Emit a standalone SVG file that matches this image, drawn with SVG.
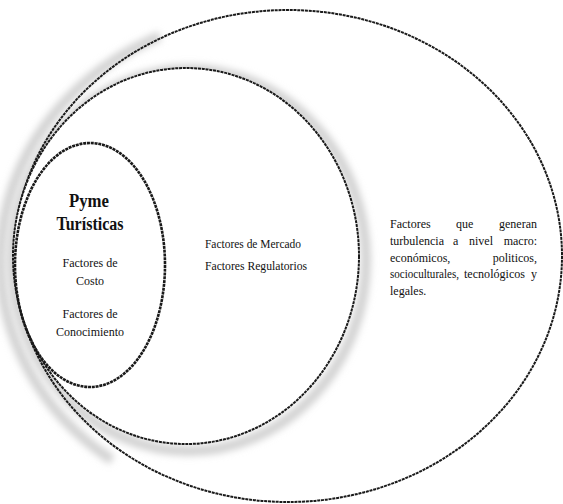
<svg xmlns="http://www.w3.org/2000/svg" width="563" height="504" viewBox="0 0 563 504">
  <defs>
    <filter id="blur" x="-20%" y="-20%" width="140%" height="140%">
      <feGaussianBlur stdDeviation="3.5"/>
    </filter>
    <style>
      .line { fill: none; stroke: #1a1a1a; stroke-width: 2; stroke-dasharray: 3 0.8; }
      .thick { stroke-width: 2.6; }
      .glow { fill: none; stroke: #d2d2d2; filter: url(#blur); }
      .t { font-family: "Liberation Serif", "Times New Roman", serif; font-size: 12px; fill: #111; }
      .b { font-family: "Liberation Serif", "Times New Roman", serif; font-size: 18px; font-weight: bold; fill: #111; text-anchor: middle; }
      .c { text-anchor: middle; }
      .e { text-anchor: end; }
    </style>
  </defs>
  <rect width="563" height="504" fill="#ffffff"/>

  <g id="shadows">
    <path class="glow" stroke-width="10" d="M 160 36 A 276 248 0 0 0 112 460"/>
    <ellipse class="glow" stroke-width="10" cx="189" cy="260" rx="177" ry="191"/>
  </g>

  <g id="outer">
    <ellipse class="line" cx="288" cy="256" rx="274" ry="246"/>
    <text class="t" x="390" y="228">Factores</text>
    <text class="t" x="456" y="228">que</text>
    <text class="t e" x="537" y="228">generan</text>
    <text class="t" x="390" y="245">turbulencia</text>
    <text class="t" x="453" y="245">a</text>
    <text class="t" x="469" y="245">nivel</text>
    <text class="t e" x="537" y="245">macro:</text>
    <text class="t" x="390" y="261.5">económicos,</text>
    <text class="t e" x="537" y="261.5">politicos,</text>
    <text class="t" x="390" y="278" textLength="69" lengthAdjust="spacingAndGlyphs">socioculturales,</text>
    <text class="t" x="464" y="278" textLength="61" lengthAdjust="spacingAndGlyphs">tecnológicos</text>
    <text class="t e" x="537" y="278">y</text>
    <text class="t" x="390" y="294.5">legales.</text>
  </g>

  <g id="middle">
    <ellipse class="line" cx="186" cy="256" rx="173" ry="188" style="fill:#ffffff"/>
    <text class="t" x="205" y="248" textLength="96" lengthAdjust="spacingAndGlyphs">Factores de Mercado</text>
    <text class="t" x="205" y="270" textLength="102" lengthAdjust="spacingAndGlyphs">Factores Regulatorios</text>
  </g>

  <g id="inner">
    <ellipse class="line thick" cx="90" cy="265" rx="75" ry="122"/>
    <text class="b" x="89" y="207" textLength="40" lengthAdjust="spacingAndGlyphs">Pyme</text>
    <text class="b" x="90" y="230" textLength="67" lengthAdjust="spacingAndGlyphs">Turísticas</text>
    <text class="t c" x="90" y="267">Factores de</text>
    <text class="t c" x="90" y="285">Costo</text>
    <text class="t c" x="90" y="318">Factores de</text>
    <text class="t c" x="90" y="336">Conocimiento</text>
  </g>

  <g id="connectors"></g>
</svg>
